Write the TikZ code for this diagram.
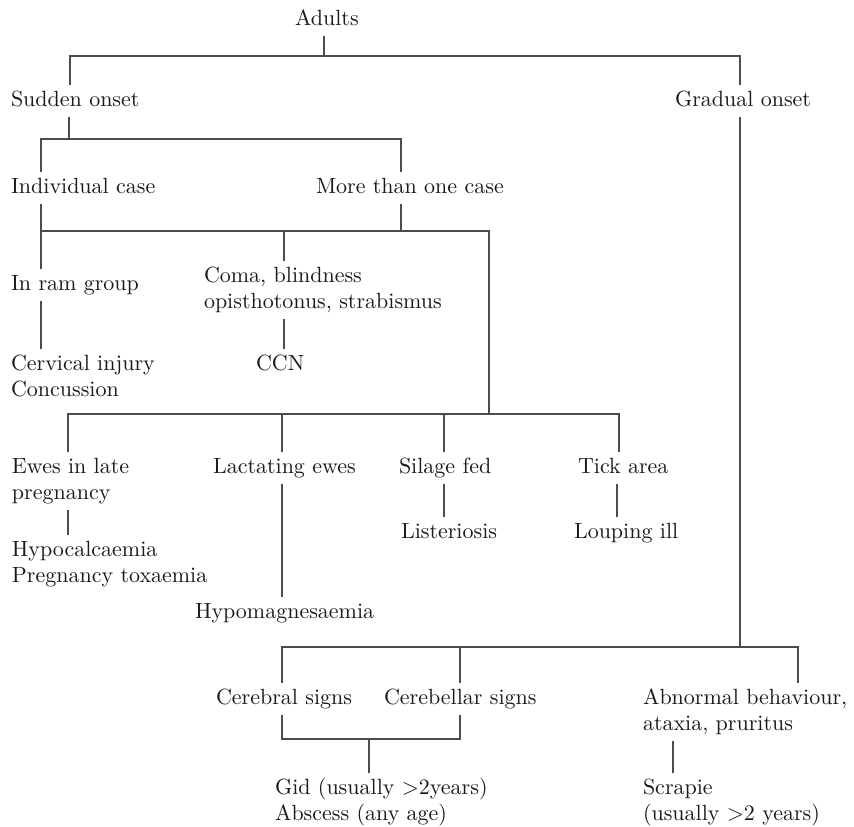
\documentclass[tikz,border=0pt]{standalone}
\usepackage{fontspec}
% the 10pt design of Latin Modern, used at every size
\setmainfont{lmroman10-regular}[Extension=.otf]
\definecolor{txt}{HTML}{1A1A1A}
\definecolor{ln}{HTML}{4C4C4C}
% text block whose baseline is the baseline of its first line
\newcommand{\txtblock}[1]{\begin{tabular}[t]{@{}l@{}}#1\end{tabular}}
\begin{document}
\begin{tikzpicture}[x=1pt,y=-1pt,
  lbl/.style={inner sep=0pt, outer xsep=0pt, outer ysep=3pt, anchor=base west,
              text=txt, font=\fontsize{22}{26}\selectfont},
  link/.style={draw=ln, line width=1.4pt, line cap=butt, line join=miter}]
\fill[white] (0,0) rectangle (854,827);
\useasboundingbox (0,0) rectangle (854,827);

% ---- labels ----
\node[lbl] (adults)     at (295,25)  {\txtblock{Adults}};
\node[lbl] (sudden)     at (11,106)  {\txtblock{Sudden onset}};
\node[lbl] (gradual)    at (675,106) {\txtblock{Gradual onset}};
\node[lbl] (indiv)      at (11,193)  {\txtblock{Individual case}};
\node[lbl] (more)       at (316,193) {\txtblock{More than one case}};
\node[lbl] (ram)        at (11,290)  {\txtblock{In ram group}};
\node[lbl] (coma)       at (204,282) {\txtblock{Coma, blindness\\opisthotonus, strabismus}};
\node[lbl] (cervical)   at (11,370)  {\txtblock{Cervical injury\\Concussion}};
\node[lbl] (ccn)        at (256,370) {\txtblock{CCN}};
\node[lbl] (ewes)       at (12,473)  {\txtblock{Ewes in late\\pregnancy}};
\node[lbl] (lact)       at (213,473) {\txtblock{Lactating ewes}};
\node[lbl] (silage)     at (399,473) {\txtblock{Silage fed}};
\node[lbl] (tick)       at (578,473) {\txtblock{Tick area}};
\node[lbl] (hypocal)    at (12,556)  {\txtblock{Hypocalcaemia\\Pregnancy toxaemia}};
\node[lbl] (hypomag)    at (195,618) {\txtblock{Hypomagnesaemia}};
\node[lbl] (lister)     at (401,538) {\txtblock{Listeriosis}};
\node[lbl] (louping)    at (574,538) {\txtblock{Louping ill}};
\node[lbl] (cerebral)   at (216,704) {\txtblock{Cerebral signs}};
\node[lbl] (cerebellar) at (384,704) {\txtblock{Cerebellar signs}};
\node[lbl] (abnormal)   at (643,704) {\txtblock{Abnormal behaviour,\\ataxia, pruritus}};
\node[lbl] (gid)        at (275,794) {\txtblock{Gid (usually >2years)\\Abscess (any age)}};
\node[lbl] (scrapie)    at (643,794) {\txtblock{Scrapie\\(usually >2 years)}};

% ---- bus junctions ----
\coordinate (busA) at (324,56);
\coordinate (busB) at (69,139);
\coordinate (busC) at (401,231);
\coordinate (busD) at (489,414);
\coordinate (busE) at (740,647);
\coordinate (busF) at (369,739);

% ---- connectors ----
\draw[link] (adults.south -| busA) -- (busA);
\draw[link] (sudden.north -| 70,0) |- (busA) -| (gradual.north -| 740,0);

\draw[link] (sudden.south -| busB) -- (busB);
\draw[link] (indiv.north -| 41,0) |- (busB) -| (more.north -| 401,0);

\draw[link] (indiv.south -| 41,0) |- (busC);
\draw[link] (more.south -| busC) -- (busC);
\draw[link] (busC) -| (busD);
\draw[link] (ram.north -| 41,0) -- (41,231);
\draw[link] (coma.north -| 284,0) -- (284,231);
\draw[link] (ram.south -| 41,0) -- (cervical.north -| 41,0);
\draw[link] (coma.south -| 284,0) -- (ccn.north -| 284,0);

\draw[link] (ewes.north -| 68,0) |- (busD) -| (tick.north -| 619,0);
\draw[link] (lact.north -| 282,0) -- (282,414);
\draw[link] (silage.north -| 444,0) -- (444,414);
\draw[link] (ewes.south -| 68,0) -- (hypocal.north -| 68,0);
\draw[link] (lact.south -| 282,0) -- (hypomag.north -| 282,0);
\draw[link] (silage.south -| 444,0) -- (lister.north -| 444,0);
\draw[link] (tick.south -| 617,0) -- (louping.north -| 617,0);

\draw[link] (gradual.south -| busE) -- (busE);
\draw[link] (cerebral.north -| 282,0) |- (busE) -| (abnormal.north -| 798,0);
\draw[link] (cerebellar.north -| 460,0) -- (460,647);

\draw[link] (cerebral.south -| 282,0) |- (busF) -| (cerebellar.south -| 460,0);
\draw[link] (busF) -- (gid.north -| busF);
\draw[link] (abnormal.south -| 673,0) -- (scrapie.north -| 673,0);
\end{tikzpicture}
\end{document}
